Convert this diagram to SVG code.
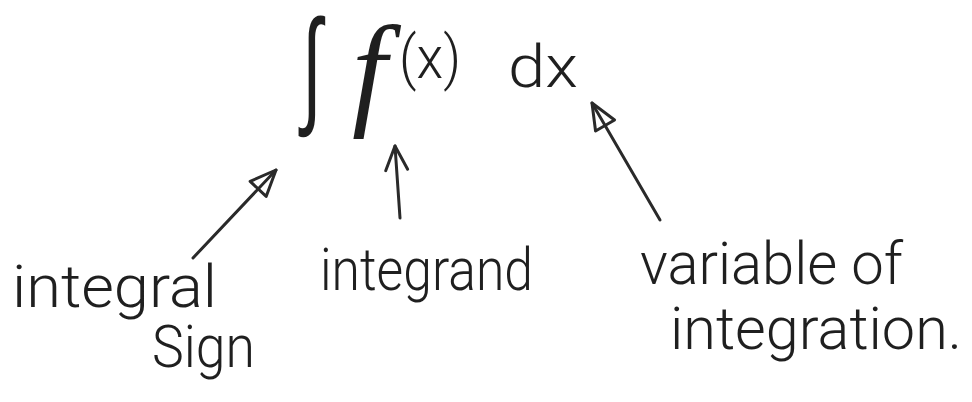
<svg xmlns="http://www.w3.org/2000/svg" width="972" height="402" viewBox="0 0 972 402">
  <style>
    .lbl { font-family: Roboto, "Liberation Sans", sans-serif; font-weight: 300; font-size: 60px; fill: #1f1f1f; }
    .math { font-family: "Liberation Serif", "DejaVu Serif", serif; font-style: italic; fill: #1f1f1f; }
    .sym { font-family: "DejaVu Sans", "Liberation Sans", sans-serif; font-weight: 200; fill: #1f1f1f; }
    .conn { stroke: #2a2a2a; stroke-width: 3; fill: none; stroke-linecap: round; }
    .head { stroke: #2a2a2a; stroke-width: 3; fill: none; stroke-linejoin: round; stroke-linecap: round; }
  </style>
  <defs>
    <marker id="tri" markerUnits="userSpaceOnUse" viewBox="0 0 32 28" markerWidth="32" markerHeight="28" refX="29" refY="14" orient="auto">
      <path class="head" d="M3,3 L29,14 L3,25 Z"/>
    </marker>
    <marker id="chev" markerUnits="userSpaceOnUse" viewBox="0 0 30 30" markerWidth="30" markerHeight="30" refX="27" refY="15" orient="auto">
      <path class="head" d="M3,4 L27,15 L3,26"/>
    </marker>
  </defs>
  <rect width="972" height="402" fill="#ffffff"/>

  <g id="integral-symbol">
    <text class="sym" font-size="120" transform="translate(302,0) scale(0.6,1.07)" x="0" y="103">∫</text>
  </g>
  <g id="integrand-expr">
    <text class="math" x="352" y="112" font-size="125">f</text>
    <text class="lbl" x="399" y="78" font-size="48" textLength="62" lengthAdjust="spacingAndGlyphs">(x)</text>
  </g>
  <g id="differential">
    <text class="lbl" x="508" y="87" font-size="80" textLength="70" lengthAdjust="spacingAndGlyphs">dx</text>
  </g>

  <g id="label-integral-sign">
    <text class="lbl" x="12" y="307" textLength="205" lengthAdjust="spacingAndGlyphs">integral</text>
    <text class="lbl" x="152" y="367" textLength="103" lengthAdjust="spacingAndGlyphs">Sign</text>
  </g>
  <g id="label-integrand">
    <text class="lbl" x="320" y="290" textLength="213" lengthAdjust="spacingAndGlyphs">integrand</text>
  </g>
  <g id="label-variable">
    <text class="lbl" x="640" y="284" font-size="58" textLength="263" lengthAdjust="spacingAndGlyphs">variable of</text>
    <text class="lbl" x="670" y="349" font-size="58" textLength="292" lengthAdjust="spacingAndGlyphs">integration.</text>
  </g>

  <g id="connectors">
    <line class="conn" x1="193" y1="258" x2="276" y2="170" marker-end="url(#tri)"/>
    <line class="conn" x1="400" y1="218" x2="395" y2="146" marker-end="url(#chev)"/>
    <line class="conn" x1="660" y1="220" x2="592" y2="103" marker-end="url(#tri)"/>
  </g>
</svg>
